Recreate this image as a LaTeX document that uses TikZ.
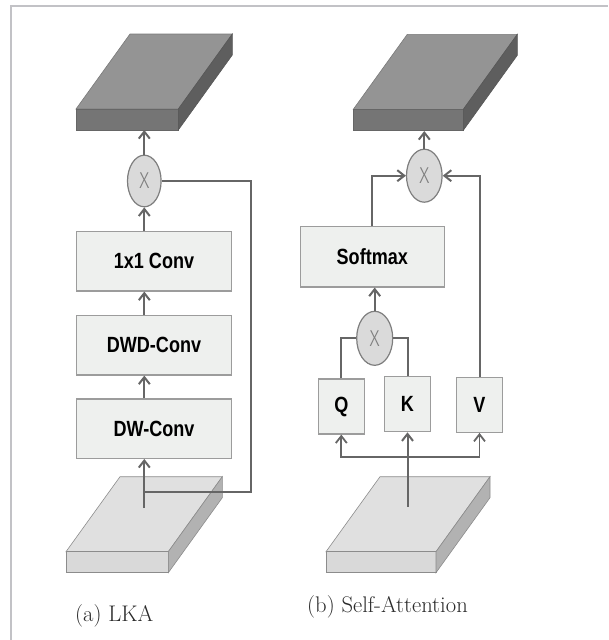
\documentclass[tikz,border=0pt]{standalone}
\usepackage{fontspec}
\newfontfamily\boxfont{Liberation Sans}
\newfontfamily\xfont{Fira Sans Light}
\usetikzlibrary{arrows.meta,shapes.geometric}

\definecolor{wire}{HTML}{666666}
\definecolor{boxfill}{HTML}{EEF0EE}
\definecolor{boxline}{HTML}{9C9C9C}
\definecolor{opfill}{HTML}{DADADA}
\definecolor{opline}{HTML}{7E7E7E}
\definecolor{framegray}{HTML}{C2C2C6}
\definecolor{captext}{HTML}{2A2A2A}

\tikzset{
  wire/.style={draw=wire, line width=2pt},
  arr/.style={wire, -{Straight Barb[length=7pt,width=11pt]}},
  arrboth/.style={wire, line width=1.8pt, {Straight Barb[length=7pt,width=11pt]}-{Straight Barb[length=7pt,width=11pt]}},
  layer/.style={draw=boxline, fill=boxfill, line width=1.2pt, inner sep=0pt,
    text=black, font=\boxfont\bfseries\fontsize{22}{24}\selectfont},
  op/.style={ellipse, draw=opline, fill=opfill, line width=1.2pt, inner sep=0pt,
    text=opline, font=\xfont\fontsize{23}{23}\selectfont},
  caption/.style={inner sep=0pt, text=captext, font=\fontsize{22.6}{26}\selectfont},
  frameline/.style={draw=framegray, line width=2pt},
  dark top/.style={fill=black!42, draw=black!52, line width=0.6pt},
  dark front/.style={fill=black!54, draw=black!60, line width=0.6pt},
  dark side/.style={fill=black!63, draw=black!66, line width=0.6pt},
  light top/.style={fill=black!12, draw=black!45, line width=0.6pt},
  light front/.style={fill=black!15, draw=black!45, line width=0.6pt},
  light side/.style={fill=black!30, draw=black!45, line width=0.6pt},
}

% horizontally condensed label text
\newcommand\narrowtext[1]{\scalebox{0.82}[1]{#1}}
% feature-map slab: #1,#2 front top-left corner, #3 front width, #4 tone
\newcommand\featslab[4]{%
  \filldraw[#4 top] (#1,#2) -- ++(#3,0) -- ++(54,-75) -- ++(-#3,0) -- cycle;
  \filldraw[#4 front] (#1,#2) rectangle ++(#3,21);
  \filldraw[#4 side] (#1,#2) ++(#3,0) -- ++(54,-75) -- ++(0,21) -- ++(-54,75) -- cycle;}

\begin{document}
\begin{tikzpicture}[x=1pt,y=-1pt]
\useasboundingbox (0,0) rectangle (608,640);

% outer frame (top and left edges)
\draw[frameline] (11,640) -- (11,6) -- (608,6);

% ---------- feature maps ----------
\featslab{76}{109}{102.3}{dark}
\featslab{66}{551.7}{102.3}{light}
\featslab{353.3}{109.3}{110}{dark}
\featslab{326}{551.7}{110}{light}

% ---------- (a) LKA ----------
\coordinate (outL) at (144.3,130);
\coordinate (inL) at (144.3,508);
\coordinate (skipL) at (251,491.7);

\node[op, minimum width=33.6pt, minimum height=51.6pt] (opL) at (144.3,181) {\scalebox{0.85}[1]{X}};
\node[layer, minimum width=155.4pt, minimum height=59.3pt] (c1) at (154,261.3) {\narrowtext{1x1 Conv}};
\node[layer, minimum width=155.4pt, minimum height=59.3pt] (dwd) at (154,345.3) {\narrowtext{DWD-Conv}};
\node[layer, minimum width=155.4pt, minimum height=59.3pt] (dw) at (154,428.7) {\narrowtext{DW-Conv}};

\draw[wire] (opL.east) -| (skipL) -- (skipL -| inL);
\draw[arr] (inL) -- (inL |- dw.south);
\draw[arr] (dw.north -| opL) -- (dwd.south -| opL);
\draw[arr] (dwd.north -| opL) -- (c1.south -| opL);
\draw[arr] (c1.north -| opL) -- (opL.south);
\draw[arr] (opL.north) -- (outL);

\node[caption, anchor=base west] (capA) at (75,621) {(a) LKA};

% ---------- (b) Self-Attention ----------
\coordinate (outR) at (424.3,131);
\coordinate (inR) at (407.5,506.7);
\coordinate (fork) at (407.5,456.7);

\node[op, minimum width=35.6pt, minimum height=53pt] (opR) at (424.3,175.7) {\scalebox{0.85}[1]{X}};
\node[layer, minimum width=144pt, minimum height=60.3pt] (soft) at (372.3,256.8) {\narrowtext{Softmax}};
\node[op, minimum width=36pt, minimum height=54pt] (opQK) at (374.7,338.3) {\scalebox{0.85}[1]{X}};
\node[layer, minimum width=46pt, minimum height=55pt] (q) at (341.3,406.5) {\narrowtext{Q}};
\node[layer, minimum width=46pt, minimum height=55pt] (k) at (407.5,404.2) {\narrowtext{K}};
\node[layer, minimum width=46pt, minimum height=55pt] (v) at (479.5,404.8) {\narrowtext{V}};

\draw[arr] (inR) -- (k.south);
\draw[arrboth] (q.south) -- (q.south |- fork) -- (v.south |- fork) -- (v.south);
\draw[wire] (q.north) |- (opQK.west);
\draw[wire] (k.north) |- (opQK.east);
\draw[arr] (opQK.north) -- (opQK.north |- soft.south);
\draw[arr] (soft.north) |- (opR.west);
\draw[arr] (v.north) |- (opR.east);
\draw[arr] (opR.north) -- (outR);

\node[caption, anchor=base west] (capB) at (307,612) {(b) Self-Attention};
\end{tikzpicture}
\end{document}
